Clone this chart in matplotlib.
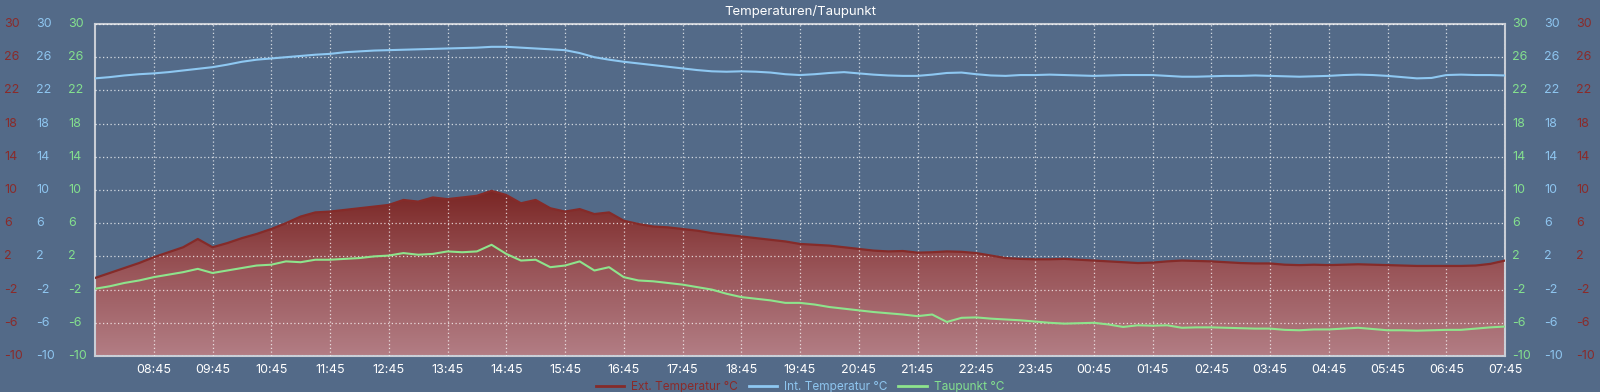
import numpy as np
import matplotlib
matplotlib.use('Agg')
import matplotlib.pyplot as plt
import matplotlib.transforms as mtransforms
from matplotlib.colors import LinearSegmentedColormap
from matplotlib.lines import Line2D

# 15 min samples, 07:45 .. 07:45 next day (one row = one hour)
ext_temp = [
    -0.6, 0.0, 0.6, 1.2,
    1.9, 2.5, 3.1, 4.1,
    3.1, 3.6, 4.2, 4.7,
    5.3, 6.0, 6.8, 7.3,
    7.4, 7.6, 7.8, 8.0,
    8.2, 8.8, 8.6, 9.1,
    8.9, 9.1, 9.3, 9.9,
    9.4, 8.4, 8.8, 7.8,
    7.4, 7.7, 7.1, 7.3,
    6.3, 5.9, 5.6, 5.5,
    5.3, 5.1, 4.8, 4.6,
    4.4, 4.2, 4.0, 3.8,
    3.5, 3.4, 3.3, 3.1,
    2.9, 2.7, 2.6, 2.65,
    2.45, 2.5, 2.6, 2.55,
    2.4, 2.1, 1.8, 1.7,
    1.65, 1.65, 1.7, 1.6,
    1.5, 1.4, 1.3, 1.2,
    1.25, 1.4, 1.5, 1.45,
    1.4, 1.3, 1.2, 1.15,
    1.15, 1.0, 0.95, 1.0,
    0.95, 1.0, 1.05, 1.0,
    0.95, 0.9, 0.85, 0.85,
    0.85, 0.85, 0.9, 1.1,
    1.5,
]
int_temp = [
    23.45, 23.6, 23.8, 23.95,
    24.05, 24.2, 24.4, 24.6,
    24.8, 25.1, 25.45, 25.7,
    25.85, 26.0, 26.15, 26.3,
    26.4, 26.6, 26.7, 26.8,
    26.85, 26.9, 26.95, 27.0,
    27.05, 27.1, 27.15, 27.25,
    27.25, 27.15, 27.05, 26.95,
    26.85, 26.5, 26.0, 25.7,
    25.45, 25.25, 25.05, 24.85,
    24.65, 24.45, 24.3, 24.25,
    24.3, 24.25, 24.15, 23.95,
    23.85, 23.95, 24.1, 24.2,
    24.05, 23.9, 23.8, 23.75,
    23.75, 23.9, 24.1, 24.15,
    23.95, 23.8, 23.75, 23.85,
    23.85, 23.9, 23.85, 23.8,
    23.75, 23.8, 23.85, 23.85,
    23.85, 23.75, 23.65, 23.65,
    23.7, 23.75, 23.75, 23.8,
    23.75, 23.7, 23.65, 23.7,
    23.75, 23.85, 23.9, 23.85,
    23.75, 23.6, 23.45, 23.5,
    23.85, 23.9, 23.85, 23.85,
    23.8,
]
taupunkt = [
    -1.9, -1.6, -1.2, -0.9,
    -0.5, -0.2, 0.1, 0.5,
    0.0, 0.3, 0.6, 0.9,
    1.0, 1.4, 1.3, 1.6,
    1.6, 1.7, 1.8, 2.0,
    2.1, 2.4, 2.2, 2.3,
    2.6, 2.5, 2.6, 3.4,
    2.3, 1.5, 1.6, 0.7,
    0.9, 1.4, 0.3, 0.7,
    -0.5, -0.9, -1.0, -1.2,
    -1.4, -1.7, -2.0, -2.5,
    -2.9, -3.1, -3.3, -3.6,
    -3.6, -3.8, -4.1, -4.3,
    -4.5, -4.7, -4.85, -5.0,
    -5.2, -5.0, -5.9, -5.4,
    -5.35, -5.5, -5.6, -5.7,
    -5.85, -6.0, -6.1, -6.05,
    -6.0, -6.2, -6.5, -6.3,
    -6.35, -6.3, -6.6, -6.55,
    -6.55, -6.6, -6.65, -6.7,
    -6.7, -6.85, -6.9, -6.8,
    -6.8, -6.7, -6.6, -6.75,
    -6.9, -6.9, -6.95, -6.9,
    -6.85, -6.85, -6.7, -6.55,
    -6.45,
]
time_labels = ['08:45', '09:45', '10:45', '11:45', '12:45', '13:45', '14:45', '15:45',
               '16:45', '17:45', '18:45', '19:45', '20:45', '21:45', '22:45', '23:45',
               '00:45', '01:45', '02:45', '03:45', '04:45', '05:45', '06:45', '07:45']
y_ticks = [-10, -6, -2, 2, 6, 10, 14, 18, 22, 26, 30]

bg = '#536a88'
red = '#852b29'
blue = '#8ec8f2'
green = '#8ee48c'
red_txt = '#8a2b2a'
blue_txt = '#8ec5ef'
green_txt = '#84e08e'

plt.rcParams['font.family'] = ['Inter', 'DejaVu Sans']

hours = np.arange(len(ext_temp)) * 0.25

fig = plt.figure(figsize=(16, 3.92), dpi=100, facecolor=bg)
ax = fig.add_axes([95 / 1600, 36 / 392, 1410 / 1600, 332 / 392])
ax.set_facecolor(bg)
ax.set_xlim(0, 24)
ax.set_ylim(-10, 30)

# gradient fill under the outside temperature
cmap = LinearSegmentedColormap.from_list('ext', ['#b27d84', '#9a565a', '#7a2624'])
grad = np.linspace(0, 1, 256).reshape(-1, 1)
grad = np.clip(grad * 2, 0, 1)  # dark from value 10 upwards
im = ax.imshow(grad, extent=[0, 24, -10, 30], origin='lower', aspect='auto',
               cmap=cmap, zorder=1)
poly = ax.fill_between(hours, ext_temp, -10, color='none', lw=0)
clip = poly.get_paths()[0]
im.set_clip_path(clip, transform=ax.transData)

ax.plot(hours, ext_temp, color=red, lw=1.6, zorder=3)
ax.plot(hours, int_temp, color=blue, lw=1.5, zorder=3)
ax.plot(hours, taupunkt, color=green, lw=1.5, zorder=4)

ax.set_xticks(np.arange(1, 25))
ax.set_xticklabels(time_labels, color='white', fontsize=9)
ax.tick_params(axis='x', length=0, pad=6)
ax.set_yticks(y_ticks)
ax.set_yticklabels([])
ax.tick_params(axis='y', length=0)
ax.grid(True, color='white', linestyle=(0, (1, 2)), lw=0.9, alpha=0.75, zorder=2)
ax.set_axisbelow(False)
for s in ax.spines.values():
    s.set_color('#c9ced6')
    s.set_linewidth(1.5)

# three y label columns on each side
tr = mtransforms.blended_transform_factory(fig.transFigure, ax.transData)
cols = [(4, red_txt), (36, blue_txt), (68, green_txt),
        (1512, green_txt), (1544, blue_txt), (1576, red_txt)]
for px, c in cols:
    for v in y_ticks:
        ax.text(px / 1600, v, str(v), transform=tr, color=c, fontsize=9,
                ha='left', va='center', clip_on=False)

fig.text(0.5, 1 - 12 / 392, 'Temperaturen/Taupunkt', color='white', fontsize=9.5,
         ha='center', va='center')

handles = [Line2D([], [], color=red, lw=2), Line2D([], [], color=blue, lw=2),
           Line2D([], [], color=green, lw=2)]
labels = ['Ext. Temperatur °C', 'Int. Temperatur °C', 'Taupunkt °C']
leg = fig.legend(handles, labels, loc='center', bbox_to_anchor=(0.5, 1 - 387 / 392),
                 ncol=3, frameon=False, fontsize=8.5, handlelength=2.4,
                 columnspacing=0.9, handletextpad=0.6)
for t, c in zip(leg.get_texts(), [red_txt, blue_txt, green_txt]):
    t.set_color(c)

fig.savefig('out.png', dpi=100, facecolor=bg)
